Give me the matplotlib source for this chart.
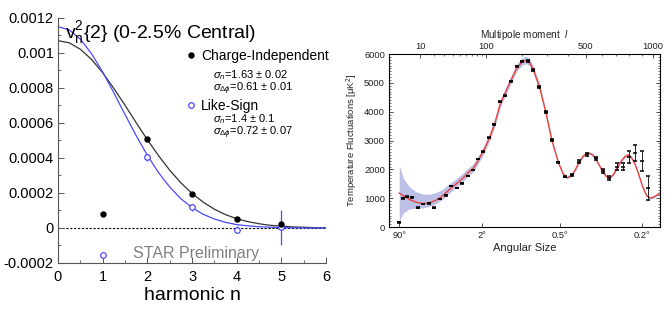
import numpy as np
import matplotlib
matplotlib.use('Agg')
import matplotlib.pyplot as plt
from matplotlib.lines import Line2D
from matplotlib.ticker import MultipleLocator, FixedLocator, NullFormatter

plt.rcParams['font.family'] = ['Liberation Sans', 'DejaVu Sans']
plt.rcParams['mathtext.fontset'] = 'custom'
plt.rcParams['mathtext.rm'] = 'Liberation Sans'
plt.rcParams['mathtext.it'] = 'Liberation Sans:italic'
plt.rcParams['mathtext.bf'] = 'Liberation Sans:bold'

# -----------------------------------
# Left panel: v_n^2{2}, 0-2.5% central

harmonic = [1, 2, 3, 4, 5]
ci_vals = [0.000080, 0.000509, 0.000193, 0.000050, 0.000022]
ci_err = [0.000004, 0.000008, 0.000006, 0.000005, 0.000008]
ls_vals = [-0.000154, 0.000404, 0.000118, -0.000011, 0.000004]
ls_err = [0.000010, 0.000020, 0.000020, 0.000020, 0.000100]

# fit curves (units of 1e-3)
fit_n = [0, 0.25, 0.5, 0.75, 1.0, 1.25, 1.5, 1.75, 2.0, 2.25, 2.5, 2.75, 3.0,
         3.25, 3.5, 3.75, 4.0, 4.25, 4.5, 4.75, 5.0, 5.25, 5.5, 5.75, 6.0]
ci_fit = [1.070, 1.058, 1.021, 0.963, 0.887, 0.797, 0.701, 0.601, 0.504,
          0.413, 0.330, 0.258, 0.197, 0.147, 0.107, 0.076, 0.053, 0.036,
          0.024, 0.015, 0.010, 0.006, 0.004, 0.002, 0.001]
ls_fit = [1.150, 1.132, 1.079, 0.996, 0.891, 0.772, 0.648, 0.527, 0.415,
          0.316, 0.234, 0.167, 0.116, 0.078, 0.051, 0.032, 0.019, 0.012,
          0.007, 0.004, 0.002, 0.001, 0.0005, 0.0002, 0.0001]

y_ticks = [-0.0002, 0, 0.0002, 0.0004, 0.0006, 0.0008, 0.001, 0.0012]
y_tick_labels = ['-0.0002', '0', '0.0002', '0.0004', '0.0006', '0.0008', '0.001', '0.0012']

# -----------------------------------
# Right panel: CMB temperature power spectrum

cmb_l = [2, 3, 4, 6, 9, 12, 16, 20, 26, 32, 38, 46, 54, 63, 73, 83, 93,
         106, 119, 134, 148, 165, 184, 203, 222, 243, 267, 294, 320, 351,
         385, 419, 462, 508, 560, 606, 651, 704, 753, 799, 845, 901, 953]
cmb_D = [170, 1000, 1060, 1030, 680, 800, 820, 680, 980, 1100, 1430, 1350,
         1520, 1770, 1985, 2355, 2620, 3100, 3570, 4350, 4560, 5050, 5570,
         5750, 5770, 5450, 4870, 3980, 3020, 2245, 1752, 1811, 2272, 2528,
         2389, 1940, 1710, 2098, 2098, 2424, 2562, 2296, 1350]
cmb_err = [10, 10, 10, 10, 10, 10, 10, 10, 10, 10, 10, 10, 10, 10, 10, 10,
           10, 20, 20, 20, 20, 25, 25, 25, 30, 30, 30, 30, 30, 30, 30, 35,
           40, 50, 50, 60, 70, 120, 130, 200, 270, 350, 410]

curve_l = [2, 3, 5, 8, 12, 16, 21, 27, 34, 43, 54, 66, 73, 83, 93, 106, 119,
           134, 148, 165, 184, 203, 215, 228, 243, 267, 294, 320, 351, 375,
           395, 419, 440, 462, 485, 514, 540, 560, 585, 606, 630, 653, 680,
           704, 730, 753, 770, 791, 810, 829, 850, 869, 890, 908, 928, 947,
           973, 1000, 1036, 1064]
curve_D = [1180, 1090, 960, 860, 815, 840, 920, 1050, 1250, 1460, 1680, 1930,
           2040, 2330, 2620, 3060, 3540, 4250, 4650, 5080, 5520, 5740, 5780,
           5720, 5460, 4870, 3990, 3040, 2250, 1850, 1710, 1790, 2000, 2270,
           2470, 2580, 2510, 2370, 2130, 1930, 1760, 1700, 1820, 2030, 2240,
           2380, 2460, 2500, 2450, 2330, 2140, 1920, 1650, 1420, 1220, 1080,
           1010, 1030, 1110, 1180]
band_up = [970, 610, 440, 360, 330, 300, 270, 240, 210, 185, 170, 160, 150,
           150, 150, 140, 140, 140, 140, 140, 140, 140, 140, 140, 130, 110,
           90, 70, 40, 40, 40, 40, 40, 40, 40, 40, 40, 40, 40, 40, 40, 40,
           40, 40, 40, 40, 40, 40, 40, 40, 40, 40, 40, 40, 40, 40, 40, 40,
           40, 40]
band_dn = [980, 600, 330, 200, 150, 120, 120, 120, 120, 120, 120, 120, 120,
           120, 120, 120, 120, 120, 120, 120, 120, 120, 120, 120, 110, 100,
           90, 70, 40, 40, 40, 40, 40, 40, 40, 40, 40, 40, 40, 40, 40, 40,
           40, 40, 40, 40, 40, 40, 40, 40, 40, 40, 40, 40, 40, 40, 40, 40,
           40, 40]

angle_ticks = [2, 90, 360, 900]
angle_labels = ['90°', '2°', '0.5°', '0.2°']
l_ticks = [10, 100, 500, 1000]
l_labels = ['10', '100', '500', '1000']
l_minor = [20, 30, 40, 50, 60, 70, 80, 90, 200, 300, 400, 600, 700, 800, 900]


def fwd(l):
    l = np.asarray(l, dtype=float)
    return np.sign(l) * np.abs(l) ** 0.4


def inv(u):
    u = np.asarray(u, dtype=float)
    return np.sign(u) * np.abs(u) ** 2.5


fig = plt.figure(figsize=(6.72, 3.09), dpi=100)

# ---------------- left
axL = fig.add_axes([0.0863, 0.149, 0.399, 0.793])
blue = '#4a4aff'
axL.axhline(0, color='black', lw=0.8, ls=(0, (2, 1.5)), zorder=1)
axL.plot(fit_n, np.array(ci_fit) * 1e-3, color='#333333', lw=0.9, zorder=2)
axL.plot(fit_n, np.array(ls_fit) * 1e-3, color=blue, lw=0.9, zorder=2)
axL.errorbar(harmonic, ci_vals, yerr=ci_err, fmt='o', color='black', ms=3.6,
             elinewidth=0.8, capsize=0, zorder=4)
axL.errorbar(harmonic, ls_vals, yerr=ls_err, fmt='o', color=blue, mfc='white',
             mec=blue, ms=4.0, mew=0.9, elinewidth=0.9, capsize=0, zorder=3)

axL.set_xlim(0, 6)
axL.set_ylim(-0.0002, 0.0012)
axL.spines['top'].set_visible(False)
axL.spines['right'].set_visible(False)
axL.spines['left'].set_color('#555555')
axL.spines['bottom'].set_color('#555555')
axL.set_yticks(y_ticks)
axL.set_yticklabels(y_tick_labels)
axL.yaxis.set_minor_locator(MultipleLocator(0.0001))
axL.xaxis.set_major_locator(MultipleLocator(1))
axL.xaxis.set_minor_locator(MultipleLocator(0.5))
axL.tick_params(which='both', direction='in', colors='#555555', labelcolor='black',
                labelsize=10.5)
axL.tick_params(which='major', length=4, width=0.7)
axL.tick_params(which='minor', length=2.5, width=0.6)
axL.tick_params(axis='y', pad=3)
axL.tick_params(axis='x', pad=5)
axL.set_xlabel('harmonic n', fontsize=14, labelpad=2)

axL.text(0.025, 0.94, r'$\mathregular{v_n^2}${2} (0-2.5% Central)', fontsize=14,
         transform=axL.transAxes, va='center', ha='left')

handles = [Line2D([], [], ls='none', marker='o', color='black', ms=3.6),
           Line2D([], [], ls='none', marker='o', mfc='white', mec=blue, mew=0.9, ms=4.0)]
axL.legend(handles, ['Charge-Independent', 'Like-Sign'], loc='upper left',
           bbox_to_anchor=(0.48, 0.875), frameon=False, fontsize=10,
           handlelength=0.6, handletextpad=0.45, labelspacing=2.6,
           borderaxespad=0, borderpad=0)
sig_kw = dict(fontsize=8, transform=axL.transAxes, va='center', ha='left')
axL.text(0.578, 0.768, r'$\sigma_n$=1.63 ± 0.02', **sig_kw)
axL.text(0.578, 0.712, r'$\sigma_{\Delta\phi}$=0.61 ± 0.01', **sig_kw)
axL.text(0.578, 0.588, r'$\sigma_n$=1.4 ± 0.1', **sig_kw)
axL.text(0.578, 0.532, r'$\sigma_{\Delta\phi}$=0.72 ± 0.07', **sig_kw)

axL.text(0.28, 0.037, 'STAR Preliminary', fontsize=11.5, color='#808080',
         transform=axL.transAxes, va='center', ha='left')

# ---------------- right
axR = fig.add_axes([0.579, 0.265, 0.403, 0.560])
axR.set_xscale('function', functions=(fwd, inv))
lo = np.array(curve_D) - np.array(band_dn)
hi = np.array(curve_D) + np.array(band_up)
axR.fill_between(curve_l, lo, hi, color='#bcc0e6', lw=0, zorder=1)
axR.plot(curve_l, curve_D, color='#e8423c', lw=1.0, zorder=2)
axR.errorbar(cmb_l, cmb_D, yerr=cmb_err, fmt='_', color='black', ms=2.8, mew=1.1,
             elinewidth=0.6, capsize=1.3, capthick=0.6, zorder=3)
axR.set_xlim(0.47, 1064)
axR.set_ylim(0, 6000)
for s in axR.spines.values():
    s.set_linewidth(0.7)
    s.set_color('#333333')
axR.set_xticks(angle_ticks)
axR.set_xticklabels(angle_labels)
axR.xaxis.set_minor_locator(FixedLocator([]))
axR.yaxis.set_major_locator(MultipleLocator(1000))
axR.yaxis.set_minor_locator(MultipleLocator(100))
axR.tick_params(which='both', direction='in', right=True, labelsize=6.7, pad=3,
                colors='#333333', labelcolor='#222222')
axR.tick_params(which='major', length=3, width=0.6)
axR.tick_params(which='minor', length=1.5, width=0.5)
axR.set_xlabel('Angular Size', fontsize=8, labelpad=2, color='#222222')
axR.set_ylabel('Temperature Fluctuations [μK$^2$]', fontsize=6.8, labelpad=3,
               color='#222222')

axT = axR.twiny()
axT.set_xscale('function', functions=(fwd, inv))
axT.set_xlim(axR.get_xlim())
axT.set_xticks(l_ticks)
axT.set_xticklabels(l_labels)
axT.xaxis.set_minor_locator(FixedLocator(l_minor))
axT.xaxis.set_minor_formatter(NullFormatter())
axT.tick_params(which='both', direction='in', labelsize=6.7, pad=2,
                colors='#333333', labelcolor='#222222')
axT.tick_params(which='major', length=3, width=0.6)
axT.tick_params(which='minor', length=1.5, width=0.5)
axT.set_xlabel(r'Multipole moment  $\mathbf{\mathit{l}}$', fontsize=7.2, labelpad=3,
               color='#222222')

fig.savefig('out.png', dpi=100)
